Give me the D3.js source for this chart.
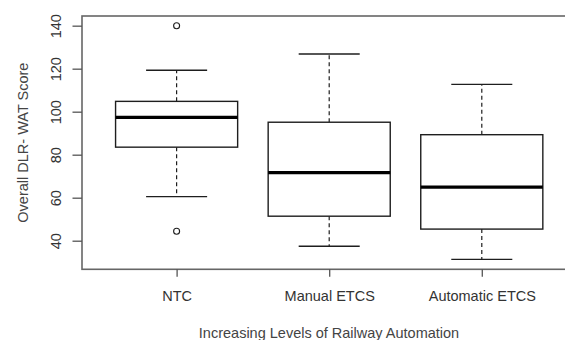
<!DOCTYPE html>
<html>
<head>
<meta charset="utf-8">
<script src="https://cdn.jsdelivr.net/npm/d3@7"></script>
<style>
  html, body { margin: 0; padding: 0; background: #fff; }
  svg { display: block; font-family: "Liberation Sans", Arial, sans-serif; }
</style>
</head>
<body>
<svg id="chart" width="565" height="340"></svg>
<script>
const categories = ["NTC", "Manual ETCS", "Automatic ETCS"];
const lowerWhisker = [60.5, 37.4, 31.3];
const q1 = [83.5, 51.4, 45.4];
const median = [97.4, 71.7, 64.9];
const q3 = [104.8, 95.1, 89.3];
const upperWhisker = [119.3, 126.8, 112.7];
const outliers = [[140, 44.4], [], []];
const yTicks = [40, 60, 80, 100, 120, 140];
const yLabel = "Overall DLR- WAT Score";
const xLabel = "Increasing Levels of Railway Automation";

const svg = d3.select("#chart");
const plot = { left: 82, top: 16, right: 576.4, bottom: 269.3 };

const y = d3.scaleLinear().domain([26.7, 144.5]).range([plot.bottom, plot.top]);
const x = d3.scaleLinear().domain([0.38, 3.62]).range([plot.left, plot.right]);

const data = categories.map((c, i) => ({
  name: c, pos: i + 1,
  lo: lowerWhisker[i], q1: q1[i], med: median[i], q3: q3[i], hi: upperWhisker[i],
  out: outliers[i]
}));

const ink = "#1e1e1e";

// Boxes
const g = svg.append("g");
const box = g.selectAll("g.box").data(data).join("g").attr("class", "box");

// whiskers (dashed)
box.append("line")
  .attr("x1", d => x(d.pos)).attr("x2", d => x(d.pos))
  .attr("y1", d => y(d.q3)).attr("y2", d => y(d.hi))
  .attr("stroke", ink).attr("stroke-width", 1.2).attr("stroke-dasharray", "4,3");
box.append("line")
  .attr("x1", d => x(d.pos)).attr("x2", d => x(d.pos))
  .attr("y1", d => y(d.q1)).attr("y2", d => y(d.lo))
  .attr("stroke", ink).attr("stroke-width", 1.2).attr("stroke-dasharray", "4,3");
// caps
box.append("line")
  .attr("x1", d => x(d.pos - 0.2)).attr("x2", d => x(d.pos + 0.2))
  .attr("y1", d => y(d.hi)).attr("y2", d => y(d.hi))
  .attr("stroke", ink).attr("stroke-width", 1.4);
box.append("line")
  .attr("x1", d => x(d.pos - 0.2)).attr("x2", d => x(d.pos + 0.2))
  .attr("y1", d => y(d.lo)).attr("y2", d => y(d.lo))
  .attr("stroke", ink).attr("stroke-width", 1.4);
// box
box.append("rect")
  .attr("x", d => x(d.pos - 0.4)).attr("width", d => x(d.pos + 0.4) - x(d.pos - 0.4))
  .attr("y", d => y(d.q3)).attr("height", d => y(d.q1) - y(d.q3))
  .attr("fill", "#fff").attr("stroke", ink).attr("stroke-width", 1.4);
// median
box.append("line")
  .attr("x1", d => x(d.pos - 0.4)).attr("x2", d => x(d.pos + 0.4))
  .attr("y1", d => y(d.med)).attr("y2", d => y(d.med))
  .attr("stroke", "#000").attr("stroke-width", 3.2);
// outliers
box.each(function(d) {
  d3.select(this).selectAll("circle").data(d.out).join("circle")
    .attr("cx", x(d.pos)).attr("cy", v => y(v)).attr("r", 3)
    .attr("fill", "none").attr("stroke", ink).attr("stroke-width", 1.1);
});

// Frame (right edge falls outside the canvas)
svg.append("rect")
  .attr("x", plot.left).attr("y", plot.top)
  .attr("width", plot.right - plot.left).attr("height", plot.bottom - plot.top)
  .attr("fill", "none").attr("stroke", "#666").attr("stroke-width", 1.6);

// Y axis
const yAxis = d3.axisLeft(y).tickValues(yTicks).tickSize(9.5).tickPadding(11).tickFormat(d3.format("d"));
const ya = svg.append("g").attr("transform", `translate(${plot.left},0)`).call(yAxis);
ya.select(".domain").remove();
ya.selectAll(".tick line").attr("stroke", "#555").attr("stroke-width", 1.3);
ya.selectAll(".tick text")
  .attr("x", null).attr("dy", null)
  .attr("transform", "translate(-21,0) rotate(-90)")
  .attr("text-anchor", "middle")
  .attr("font-size", 14.5).attr("fill", "#333")
  .style("font-family", "Liberation Sans, Arial, sans-serif");

// X axis
const xAxis = d3.axisBottom(x).tickValues(data.map(d => d.pos)).tickSize(7.5)
  .tickFormat((d, i) => categories[i]);
const xa = svg.append("g").attr("transform", `translate(0,${plot.bottom})`).call(xAxis);
xa.select(".domain").remove();
xa.selectAll(".tick line").attr("stroke", "#555").attr("stroke-width", 1.3);
xa.selectAll(".tick text")
  .attr("y", null).attr("dy", null)
  .attr("transform", "translate(0,32)")
  .attr("font-size", 14.5).attr("fill", "#333")
  .style("font-family", "Liberation Sans, Arial, sans-serif");

// Axis titles
svg.append("text")
  .attr("transform", `translate(28,${(plot.top + plot.bottom) / 2}) rotate(-90)`)
  .attr("text-anchor", "middle").attr("font-size", 14.5).attr("fill", "#444")
  .text(yLabel);
svg.append("text")
  .attr("x", 329).attr("y", 337.5)
  .attr("text-anchor", "middle").attr("font-size", 14.5).attr("fill", "#444")
  .text(xLabel);
</script>
</body>
</html>
